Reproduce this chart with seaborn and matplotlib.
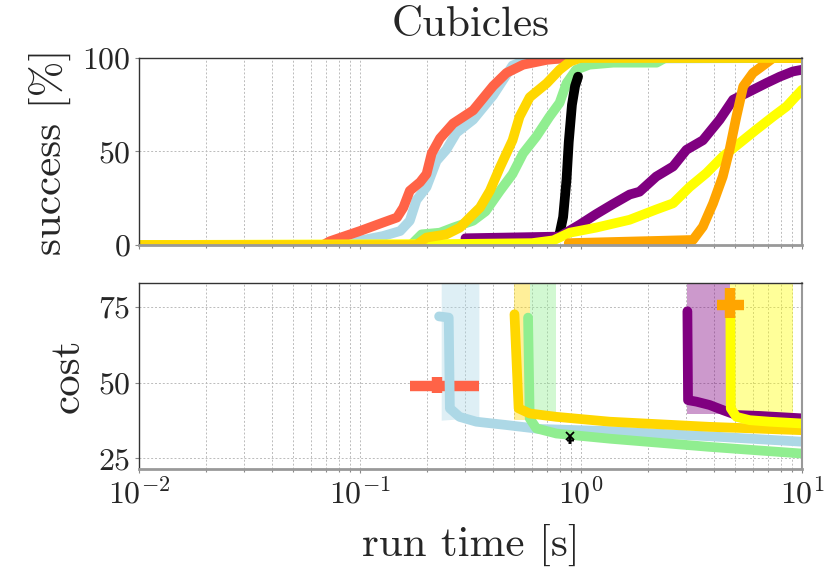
import matplotlib
matplotlib.use("Agg")
import matplotlib.pyplot as plt
import seaborn as sns

# ==========================================
# Data
# ==========================================

# success [%] vs run time [s]
tomato_t = [0.01, 0.068, 0.073, 0.10, 0.127, 0.147, 0.157, 0.168, 0.187, 0.20, 0.211, 0.23, 0.264, 0.325, 0.40, 0.46, 0.547, 0.70, 0.86, 10]
tomato_s = [0, 0, 2, 7.5, 12, 14.7, 20, 29, 33.6, 38, 49, 57, 65, 72, 85, 92, 96.4, 99, 100, 100]

lightblue_t = [0.01, 0.085, 0.09, 0.127, 0.152, 0.168, 0.18, 0.20, 0.222, 0.246, 0.273, 0.325, 0.40, 0.49, 0.585, 10]
lightblue_s = [0, 0, 1.3, 4.8, 7.5, 13, 24, 31, 45, 51, 60, 67, 80, 96, 99.5, 100]

green_t = [0.01, 0.17, 0.19, 0.23, 0.264, 0.325, 0.37, 0.43, 0.49, 0.547, 0.628, 0.72, 0.80, 0.86, 0.95, 1.09, 1.4, 2.2, 2.4, 10]
green_s = [0, 0, 5.7, 6.6, 9.3, 13, 18, 29, 38, 49, 58, 68.6, 76, 86.5, 93.7, 96.4, 97.5, 97.5, 100, 100]

black_t = [0.78, 0.80, 0.83, 0.86, 0.88, 0.91, 0.94, 0.97]
black_s = [4, 6, 15, 35, 55, 75, 85, 90]

purple_t = [0.30, 0.80, 0.99, 1.17, 1.40, 1.66, 1.84, 2.19, 2.61, 3.0, 3.56, 4.24, 4.88, 6.0, 6.9, 7.93, 9.1, 10]
purple_s = [3.6, 4.5, 11, 16.5, 22, 27, 28.5, 36.6, 42, 50.9, 56, 67, 77.7, 83, 86.6, 90, 92.8, 93.7]

yellow_t = [0.01, 0.25, 0.6, 0.75, 0.89, 1.17, 1.66, 2.19, 2.61, 3.1, 3.69, 4.38, 5.22, 6.2, 7.4, 8.5, 10]
yellow_s = [0, 0.5, 1, 2.5, 6.6, 9.3, 13.5, 19, 22.3, 31, 38.4, 47.3, 54.5, 61.6, 68.7, 74, 83]

orange_t = [0.88, 3.21, 3.56, 3.96, 4.38, 4.7, 5.05, 5.42, 6.0, 6.9, 7.4, 10]
orange_s = [1, 2.7, 9.8, 22.3, 36.6, 50.9, 68.7, 84.8, 92, 97.3, 100, 100]

gold_t = [0.01, 0.18, 0.20, 0.246, 0.283, 0.314, 0.349, 0.387, 0.43, 0.49, 0.527, 0.586, 0.70, 0.80, 0.89, 0.99, 10]
gold_s = [0, 0, 4, 5.7, 9.3, 14.7, 20, 29, 41.6, 56, 68.6, 79, 86.5, 93.7, 98, 100, 100]

# cost vs run time [s]
lightblue_ct = [0.228, 0.252, 0.255, 0.282, 0.336, 0.46, 0.65, 1.35, 3.8, 10]
lightblue_c = [71.8, 71.4, 41.5, 38.7, 37.1, 36.0, 34.7, 34.0, 32.3, 30.5]

green_ct = [0.576, 0.586, 0.628, 0.774, 1.35, 3.82, 10]
green_c = [71.4, 38.2, 34.9, 33.2, 31.5, 28.8, 26.6]

gold_ct = [0.50, 0.522, 0.586, 0.774, 1.35, 3.82, 10]
gold_c = [72.5, 41.5, 39.8, 38.7, 37.1, 35.4, 34.3]

purple_ct = [3.03, 3.05, 3.33, 3.82, 4.39, 5.05, 6.44, 10]
purple_c = [73.5, 44.2, 43.7, 42.6, 40.9, 39.3, 39.0, 38.2]

yellow_ct = [4.74, 4.76, 5.05, 5.8, 7.14, 10]
yellow_c = [72.5, 41.5, 38.7, 37.6, 37.1, 36.5]

# shaded cost ranges: (t_lo, t_hi), lower cost edge
bands = {
    "lightblue": ([0.233, 0.345], [37.6, 38.5]),
    "gold": ([0.497, 0.586], [37.6, 37.6]),
    "lightgreen": ([0.586, 0.774], [39.3, 39.3]),
    "purple": ([3.03, 4.74], [39.5, 39.5]),
    "yellow": ([4.74, 9.1], [39.2, 39.2]),
}
band_top = 90

# single-solution planners: center, x range, y range
tomato_err = (0.224, 48.7, (0.168, 0.345), (46.4, 51.9))
orange_err = (4.74, 75.6, (4.12, 5.45), (71.2, 81.1))
black_err = (0.89, 31.0, (0.875, 0.905), (30.6, 31.4))

# ==========================================
# Style
# ==========================================

sns.set_theme(style="white")
plt.rcParams["font.family"] = ["cmr10", "DejaVu Serif"]
plt.rcParams["mathtext.fontset"] = "cm"
plt.rcParams["axes.formatter.use_mathtext"] = True

LW = 7
fig = plt.figure(figsize=(8.31, 5.88), dpi=100)
ax1 = fig.add_axes([0.1673, 0.5833, 0.7978, 0.3181])
ax2 = fig.add_axes([0.1673, 0.2018, 0.7978, 0.3174])


def style_axis(ax):
    ax.set_xscale("log")
    ax.set_xlim(0.01, 10)
    ax.grid(True, which="major", axis="both", color="#bbbbbb", linestyle=(0, (2, 2)), linewidth=0.7)
    ax.grid(True, which="minor", axis="x", color="#bbbbbb", linestyle=(0, (2, 2)), linewidth=0.7)
    ax.spines["top"].set_color("#333333")
    ax.spines["left"].set_color("#333333")
    ax.spines["top"].set_linewidth(1.0)
    ax.spines["left"].set_linewidth(1.0)
    ax.spines["bottom"].set_color("#999999")
    ax.spines["right"].set_color("#999999")
    ax.spines["bottom"].set_linewidth(2.0)
    ax.spines["right"].set_linewidth(1.5)
    ax.tick_params(which="major", direction="out", length=3, width=0.8, color="#888888",
                   labelsize=23, bottom=True, left=True, pad=3)
    ax.tick_params(which="minor", direction="out", length=2.5, width=0.8, color="#888888",
                   bottom=True, left=False)
    ax.set_axisbelow(True)


# ==========================================
# Top: success
# ==========================================

style_axis(ax1)
top_series = [
    (lightblue_t, lightblue_s, "lightblue"),
    (tomato_t, tomato_s, "tomato"),
    (green_t, green_s, "lightgreen"),
    (black_t, black_s, "black"),
    (purple_t, purple_s, "purple"),
    (yellow_t, yellow_s, "yellow"),
    (orange_t, orange_s, "orange"),
    (gold_t, gold_s, "gold"),
]
for t, s, c in top_series:
    sns.lineplot(x=t, y=s, ax=ax1, color=c, linewidth=LW, sort=False, estimator=None)
ax1.set_ylim(0, 100)
ax1.set_yticks([0, 50, 100])
ax1.tick_params(labelbottom=False)
ax1.set_ylabel("success [%]", fontsize=31, labelpad=8)
ax1.set_title("Cubicles", fontsize=31, pad=16)

# ==========================================
# Bottom: cost
# ==========================================

style_axis(ax2)
for c, (bx, blo) in bands.items():
    ax2.fill_between(bx, blo, [band_top, band_top], color=c, alpha=0.4, linewidth=0)

cx, cy, (x0, x1), (y0, y1) = tomato_err
ax2.errorbar(cx, cy, xerr=[[cx - x0], [x1 - cx]], yerr=[[cy - y0], [y1 - cy]],
             fmt="none", ecolor="tomato", elinewidth=7.5, capsize=0)

cost_series = [
    (lightblue_ct, lightblue_c, "lightblue"),
    (green_ct, green_c, "lightgreen"),
    (gold_ct, gold_c, "gold"),
    (purple_ct, purple_c, "purple"),
    (yellow_ct, yellow_c, "yellow"),
]
for t, cst, c in cost_series:
    sns.lineplot(x=t, y=cst, ax=ax2, color=c, linewidth=LW, sort=False, estimator=None)

cx, cy, (x0, x1), (y0, y1) = orange_err
ax2.errorbar(cx, cy, xerr=[[cx - x0], [x1 - cx]], yerr=[[cy - y0], [y1 - cy]],
             fmt="none", ecolor="orange", elinewidth=7.5, capsize=0)
cx, cy, (x0, x1), (y0, y1) = black_err
ax2.errorbar(cx, cy, xerr=[[cx - x0], [x1 - cx]], yerr=[[cy - y0], [y1 - cy]],
             fmt="none", ecolor="black", elinewidth=5, capsize=0)
ax2.plot([black_err[0]], [32.3], marker="x", color="black", ms=6, mew=1.3, linestyle="none")

ax2.set_ylim(21.4, 82.9)
ax2.set_yticks([25, 50, 75])
ax2.set_ylabel("cost", fontsize=31, labelpad=8)
ax2.set_xlabel("run time [s]", fontsize=31, labelpad=10)

fig.savefig("out.png", dpi=100)
plt.close(fig)
